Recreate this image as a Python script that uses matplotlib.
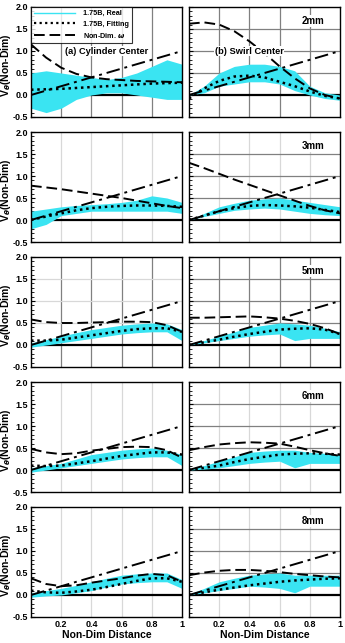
import matplotlib
matplotlib.use('Agg')
import matplotlib.pyplot as plt
from matplotlib.ticker import MultipleLocator

plt.rcParams['font.family'] = ['Liberation Sans', 'DejaVu Sans']
plt.rcParams['font.weight'] = 'bold'

x = [0.0, 0.1, 0.2, 0.3, 0.4, 0.5, 0.6, 0.7, 0.8, 0.9, 1.0]
heights = ['2mm', '3mm', '5mm', '6mm', '8mm']

# non-dim omega (dashed), [row][col]
omega = [
    [[1.15, 0.85, 0.62, 0.48, 0.40, 0.36, 0.34, 0.32, 0.31, 0.30, 0.29],
     [1.62, 1.65, 1.60, 1.45, 1.22, 0.95, 0.65, 0.38, 0.15, 0.00, -0.08]],
    [[0.78, 0.74, 0.70, 0.65, 0.60, 0.55, 0.50, 0.44, 0.38, 0.32, 0.27],
     [1.30, 1.18, 1.05, 0.92, 0.80, 0.68, 0.56, 0.44, 0.32, 0.22, 0.15]],
    [[0.58, 0.52, 0.50, 0.50, 0.51, 0.52, 0.53, 0.53, 0.52, 0.45, 0.30],
     [0.62, 0.62, 0.63, 0.64, 0.65, 0.63, 0.60, 0.55, 0.48, 0.38, 0.25]],
    [[0.48, 0.40, 0.36, 0.38, 0.44, 0.48, 0.52, 0.53, 0.52, 0.45, 0.28],
     [0.45, 0.52, 0.58, 0.61, 0.63, 0.62, 0.60, 0.53, 0.45, 0.38, 0.32]],
    [[0.38, 0.25, 0.20, 0.22, 0.28, 0.33, 0.38, 0.44, 0.48, 0.45, 0.30],
     [0.45, 0.51, 0.55, 0.57, 0.57, 0.55, 0.52, 0.48, 0.45, 0.42, 0.40]],
]

# fitting (dotted)
fitting = [
    [[0.12, 0.13, 0.14, 0.16, 0.18, 0.20, 0.22, 0.24, 0.26, 0.27, 0.28],
     [-0.08, 0.15, 0.32, 0.42, 0.44, 0.40, 0.30, 0.20, 0.08, -0.02, -0.08]],
    [[0.00, 0.08, 0.15, 0.22, 0.27, 0.30, 0.32, 0.33, 0.33, 0.32, 0.30],
     [0.00, 0.10, 0.20, 0.27, 0.32, 0.34, 0.33, 0.31, 0.28, 0.23, 0.18]],
    [[0.10, 0.10, 0.12, 0.17, 0.22, 0.27, 0.32, 0.36, 0.38, 0.38, 0.30],
     [0.00, 0.06, 0.12, 0.19, 0.25, 0.30, 0.35, 0.37, 0.38, 0.35, 0.25]],
    [[0.10, 0.09, 0.10, 0.15, 0.20, 0.26, 0.32, 0.36, 0.40, 0.40, 0.35],
     [0.00, 0.05, 0.10, 0.18, 0.25, 0.30, 0.35, 0.37, 0.38, 0.37, 0.35]],
    [[0.10, 0.06, 0.05, 0.08, 0.12, 0.18, 0.25, 0.32, 0.38, 0.38, 0.30],
     [0.00, 0.06, 0.12, 0.17, 0.22, 0.26, 0.30, 0.33, 0.35, 0.37, 0.38]],
]

# measured data band (cyan), lower / upper envelope
real_lo = [
    [[-0.30, -0.40, -0.30, -0.10, 0.00, 0.05, 0.05, 0.00, -0.05, -0.10, -0.10],
     [0.00, 0.05, 0.20, 0.25, 0.30, 0.30, 0.25, 0.10, 0.00, -0.08, -0.12]],
    [[-0.20, -0.10, 0.10, 0.15, 0.20, 0.20, 0.20, 0.20, 0.20, 0.20, 0.15],
     [0.00, 0.08, 0.15, 0.22, 0.25, 0.27, 0.25, 0.20, 0.15, 0.12, 0.10]],
    [[-0.05, 0.00, 0.05, 0.10, 0.15, 0.20, 0.25, 0.28, 0.30, 0.30, 0.10],
     [0.00, 0.05, 0.10, 0.15, 0.20, 0.23, 0.25, 0.10, 0.15, 0.15, 0.15]],
    [[-0.05, 0.00, 0.05, 0.10, 0.15, 0.20, 0.25, 0.28, 0.30, 0.30, 0.10],
     [0.00, 0.02, 0.05, 0.10, 0.15, 0.18, 0.20, 0.05, 0.15, 0.15, 0.15]],
    [[-0.05, -0.02, 0.00, 0.05, 0.10, 0.18, 0.25, 0.28, 0.30, 0.30, 0.15],
     [0.00, 0.05, 0.10, 0.15, 0.20, 0.18, 0.15, 0.05, 0.20, 0.20, 0.20]],
]
real_hi = [
    [[0.50, 0.55, 0.50, 0.45, 0.40, 0.35, 0.40, 0.50, 0.65, 0.80, 0.70],
     [0.00, 0.20, 0.50, 0.65, 0.70, 0.70, 0.65, 0.55, 0.20, 0.05, 0.00]],
    [[0.20, 0.25, 0.30, 0.33, 0.35, 0.37, 0.40, 0.45, 0.55, 0.50, 0.40],
     [0.00, 0.15, 0.30, 0.38, 0.45, 0.48, 0.50, 0.45, 0.40, 0.35, 0.30]],
    [[0.05, 0.12, 0.20, 0.28, 0.35, 0.40, 0.45, 0.48, 0.50, 0.48, 0.35],
     [0.02, 0.10, 0.20, 0.30, 0.40, 0.45, 0.50, 0.48, 0.45, 0.38, 0.30]],
    [[0.05, 0.10, 0.15, 0.25, 0.35, 0.40, 0.45, 0.48, 0.50, 0.45, 0.35],
     [0.02, 0.10, 0.20, 0.30, 0.40, 0.43, 0.45, 0.45, 0.40, 0.38, 0.35]],
    [[0.05, 0.10, 0.15, 0.22, 0.30, 0.38, 0.45, 0.48, 0.50, 0.50, 0.35],
     [0.02, 0.15, 0.30, 0.38, 0.45, 0.48, 0.50, 0.45, 0.45, 0.45, 0.45]],
]

# grid colours per panel: (vertical, horizontal), None = no grid
DARK = '#808080'
LIGHT = '#d8d8d8'
grids = [
    [(DARK, None), (DARK, DARK)],
    [(LIGHT, None), (LIGHT, DARK)],
    [(DARK, LIGHT), (DARK, DARK)],
    [(LIGHT, None), (LIGHT, DARK)],
    [(LIGHT, None), (LIGHT, DARK)],
]

CYAN = '#3ae4f2'
W, H = 345, 643
fig = plt.figure(figsize=(W / 100, H / 100), dpi=100)

for r in range(5):
    for c in range(2):
        left = (31 if c == 0 else 189) / W
        top = 7 + 125 * r
        ax = fig.add_axes([left, 1 - (top + 110) / H, 151 / W, 110 / H])
        ax.set_xlim(0, 1)
        ax.set_ylim(-0.5, 2.0)
        vcol, hcol = grids[r][c]
        if vcol:
            for gx in [0.2, 0.4, 0.6, 0.8]:
                ax.axvline(gx, color=vcol, lw=0.9, zorder=0)
        if hcol:
            for gy in [0.5, 1.0, 1.5]:
                ax.axhline(gy, color=hcol, lw=0.9, zorder=0)
        ax.axhline(0, color='black', lw=1.6, zorder=1)

        ax.fill_between(x, real_lo[r][c], real_hi[r][c], color=CYAN, lw=0, zorder=2)
        ax.plot([0, 1], [0, 1], color='black', lw=1.4, dashes=(7, 2.5, 1.5, 2.5), zorder=3)
        ax.plot(x, omega[r][c], color='black', lw=1.4, dashes=(5.5, 2.5), zorder=3)
        ax.plot(x, fitting[r][c], color='black', lw=1.8, ls=(0, (1, 1.5)), zorder=4)

        ax.yaxis.set_major_locator(MultipleLocator(0.5))
        ax.yaxis.set_minor_locator(MultipleLocator(0.1))
        ax.set_xticks([0.2, 0.4, 0.6, 0.8, 1.0])
        ax.set_xticklabels(['0.2', '0.4', '0.6', '0.8', '1'])
        ax.tick_params(direction='in', length=3, width=0.8, labelsize=6.5, pad=2)
        ax.tick_params(which='minor', direction='in', length=1.8, width=0.6)
        ax.tick_params(axis='x', length=0)
        for s in ax.spines.values():
            s.set_linewidth(1.0)
        if c == 0:
            ax.set_yticklabels(['%.1f' % v for v in ax.get_yticks()], fontweight='bold')
            ax.set_ylabel(r'V$_\theta$(Non-Dim)', fontsize=7.5, fontweight='bold')
            ax.yaxis.set_label_coords(-0.118, 0.47)
        else:
            ax.tick_params(axis='y', labelleft=False)
        if r == 4:
            ax.set_xlabel('Non-Dim Distance', fontsize=7.5, fontweight='bold', labelpad=1)
            for t in ax.get_xticklabels():
                t.set_fontweight('bold')
        else:
            ax.tick_params(axis='x', labelbottom=False)

        box = dict(facecolor='white', edgecolor='none', pad=0.5)
        if c == 1:
            ax.text(0.82, 1.68, heights[r], fontsize=7, fontweight='bold',
                    ha='center', va='center', bbox=box, zorder=5)
        if r == 0:
            if c == 0:
                ax.text(0.5, 1.0, '(a) Cylinder Center', fontsize=6.7, fontweight='bold',
                        ha='center', va='center', bbox=box, zorder=5)
                hands = [
                    plt.Line2D([], [], color=CYAN, lw=1.0),
                    plt.Line2D([], [], color='black', lw=1.6, ls=(0, (1, 1.5))),
                    plt.Line2D([], [], color='black', lw=1.4, dashes=(5.5, 2.5)),
                ]
                leg = ax.legend(hands, ['1.75B, Real', '1.75B, Fitting', r'Non-Dim. $\omega$'],
                                loc='upper left', frameon=True, fancybox=False,
                                borderaxespad=0, borderpad=0.45, labelspacing=0.45,
                                handlelength=5.6, handletextpad=1.1,
                                prop={'weight': 'bold', 'size': 5.2})
                leg.get_frame().set_edgecolor('black')
                leg.get_frame().set_linewidth(0.8)
                leg.set_zorder(6)
            else:
                ax.text(0.4, 1.0, '(b) Swirl Center', fontsize=6.7, fontweight='bold',
                        ha='center', va='center', bbox=box, zorder=5)

fig.savefig('out.png', dpi=100)
